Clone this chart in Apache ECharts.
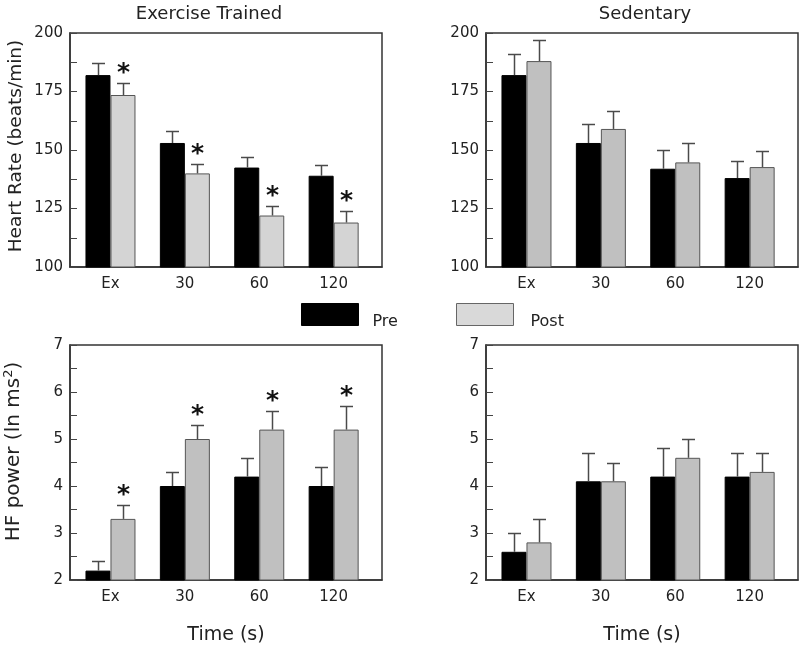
<!DOCTYPE html>
<html>
<head>
<meta charset="utf-8">
<script src="https://cdn.jsdelivr.net/npm/echarts@6/dist/echarts.min.js"></script>
<style>html,body{margin:0;padding:0;background:#fff}#c{width:800px;height:648px}</style>
</head>
<body>
<div id="c"></div>
<script>
// ---- data ----
const categories = ['Ex', '30', '60', '120'];
const panelTitles = ['Exercise Trained', 'Sedentary'];
const hrTicks = [100, 125, 150, 175, 200];
const hfTicks = [2, 3, 4, 5, 6, 7];

const trainedHRPre = [182, 153, 142.5, 139];
const trainedHRPreErr = [5, 5, 4.5, 4.5];
const trainedHRPost = [173.5, 140, 122, 119];
const trainedHRPostErr = [5, 4, 4, 5];
const trainedHRSig = [true, true, true, true];

const sedHRPre = [182, 153, 142, 138];
const sedHRPreErr = [9, 8, 8, 7.5];
const sedHRPost = [188, 159, 144.7, 142.7];
const sedHRPostErr = [9, 7.5, 8.3, 7];
const sedHRSig = [false, false, false, false];

const trainedHFPre = [2.2, 4.0, 4.2, 4.0];
const trainedHFPreErr = [0.2, 0.3, 0.4, 0.4];
const trainedHFPost = [3.3, 5.0, 5.2, 5.2];
const trainedHFPostErr = [0.3, 0.3, 0.4, 0.5];
const trainedHFSig = [true, true, true, true];

const sedHFPre = [2.6, 4.1, 4.2, 4.2];
const sedHFPreErr = [0.4, 0.6, 0.6, 0.5];
const sedHFPost = [2.8, 4.1, 4.6, 4.3];
const sedHFPostErr = [0.5, 0.4, 0.4, 0.4];
const sedHFSig = [false, false, false, false];

// ---- styling ----
const FONT = '"DejaVu Sans", "Noto Sans", sans-serif';
const BAR_W = 25;
const PRE_COLOR = '#000000';
const POST_LIGHT = '#d4d4d4';
const POST_DARK = '#c0c0c0';
const FRAME = '#333333';

const grids = [
  {left: 70, top: 33, width: 312, height: 234},
  {left: 486, top: 33, width: 312, height: 234},
  {left: 70, top: 345, width: 312, height: 235},
  {left: 486, top: 345, width: 312, height: 235}
].map(g => Object.assign(g, {show: true, borderColor: FRAME, borderWidth: 1.5, backgroundColor: 'transparent'}));

const xAxes = grids.map((g, i) => ({
  type: 'value', gridIndex: i, min: -0.544, max: 3.65,
  axisLine: {show: true, onZero: false, lineStyle: {color: FRAME, width: 1.5}},
  axisTick: {show: false},
  splitLine: {show: false},
  axisLabel: {
    customValues: [0, 1, 2, 3],
    formatter: v => categories[Math.round(v)],
    fontFamily: FONT, fontSize: 15, color: '#222', margin: 10
  },
  name: i >= 2 ? 'Time (s)' : '',
  nameLocation: 'middle', nameGap: 46,
  nameTextStyle: {fontFamily: FONT, fontSize: 19, color: '#222'}
}));

function yAxis(i, ticks, name, nameSize, namePad) {
  const interval = ticks[1] - ticks[0];
  return {
    type: 'value', gridIndex: i, min: ticks[0], max: ticks[ticks.length - 1], interval: interval,
    axisLine: {show: true, onZero: false, lineStyle: {color: FRAME, width: 1.5}},
    axisTick: {show: true, inside: true, length: 7, lineStyle: {color: '#444'}},
    minorTick: {show: true, splitNumber: 2, length: 7, lineStyle: {color: '#444'}},
    splitLine: {show: false},
    axisLabel: {fontFamily: FONT, fontSize: 15, color: '#222', margin: 7},
    name: name, nameLocation: 'middle', nameGap: 44,
    nameTextStyle: {
      fontFamily: FONT, fontSize: nameSize, color: '#222', padding: namePad,
      rich: {sup: {fontFamily: FONT, fontSize: 13, color: '#222', verticalAlign: 'top', padding: [0, 0, 11, 0]}}
    }
  };
}
const yAxes = [
  yAxis(0, hrTicks, 'Heart Rate (beats/min)', 18.5, [0, 0, 0, 8]),
  yAxis(1, hrTicks, '', 18.5, 0),
  yAxis(2, hfTicks, 'HF power (ln ms{sup|2})', 20, [0, 0, 0, 22]),
  yAxis(3, hfTicks, '', 20, 0)
];

const panels = [
  {pre: trainedHRPre, preErr: trainedHRPreErr, post: trainedHRPost, postErr: trainedHRPostErr, sig: trainedHRSig, postColor: POST_LIGHT},
  {pre: sedHRPre, preErr: sedHRPreErr, post: sedHRPost, postErr: sedHRPostErr, sig: sedHRSig, postColor: POST_DARK},
  {pre: trainedHFPre, preErr: trainedHFPreErr, post: trainedHFPost, postErr: trainedHFPostErr, sig: trainedHFSig, postColor: POST_DARK},
  {pre: sedHFPre, preErr: sedHFPreErr, post: sedHFPost, postErr: sedHFPostErr, sig: sedHFSig, postColor: POST_DARK}
];

function errSeries(idx, vals, errs, sig, dir) {
  return {
    type: 'custom', name: 'err' + idx + dir, xAxisIndex: idx, yAxisIndex: idx, z: 5,
    silent: true,
    data: vals.map((v, i) => [i, v, errs[i], sig[i] ? 1 : 0]),
    encode: {x: 0, y: 1},
    renderItem: function (params, api) {
      const x = api.value(0), v = api.value(1), e = api.value(2), s = api.value(3);
      const b = api.coord([x, v]);
      const t = api.coord([x, v + e]);
      const cx = Math.round(b[0] + dir * BAR_W / 2) + 0.5;
      const ty = Math.round(t[1]) + 0.5;
      const style = {stroke: '#4a4a4a', lineWidth: 1.5};
      const children = [
        {type: 'line', shape: {x1: cx, y1: b[1], x2: cx, y2: ty}, style: style},
        {type: 'line', shape: {x1: cx - 6.5, y1: ty, x2: cx + 6.5, y2: ty}, style: style}
      ];
      if (s) {
        children.push({type: 'text', x: cx, y: ty + 2,
          style: {text: '*', fontFamily: FONT, fontWeight: 'bold', fontSize: 25, fill: '#111', align: 'center', verticalAlign: 'bottom'}});
      }
      return {type: 'group', children: children};
    }
  };
}

const series = [];
panels.forEach((p, idx) => {
  series.push({
    type: 'bar', name: 'Pre', xAxisIndex: idx, yAxisIndex: idx, barWidth: BAR_W, barGap: '0%',
    data: p.pre.map((v, i) => [i, v]),
    itemStyle: {color: PRE_COLOR, borderColor: '#000', borderWidth: 1}
  });
  series.push({
    type: 'bar', name: 'Post', xAxisIndex: idx, yAxisIndex: idx, barWidth: BAR_W, barGap: '0%',
    data: p.post.map((v, i) => [i, v]),
    itemStyle: {color: p.postColor, borderColor: '#555', borderWidth: 1}
  });
  series.push(errSeries(idx, p.pre, p.preErr, p.pre.map(() => false), -1));
  series.push(errSeries(idx, p.post, p.postErr, p.sig, 1));
});

function legendText(padLeft) {
  return {
    fontFamily: FONT, fontSize: 16, color: '#222',
    rich: {t: {fontFamily: FONT, fontSize: 16, color: '#222', lineHeight: 31, verticalAlign: 'bottom', padding: [0, 0, 0, padLeft]}}
  };
}

const option = {
  animation: false,
  backgroundColor: '#fff',
  title: [
    {text: panelTitles[0], left: 204, top: 0, textAlign: 'center', textStyle: {fontFamily: FONT, fontSize: 18, fontWeight: 'normal', color: '#222'}},
    {text: panelTitles[1], left: 640, top: 0, textAlign: 'center', textStyle: {fontFamily: FONT, fontSize: 18, fontWeight: 'normal', color: '#222'}}
  ],
  legend: [
    {data: [{name: 'Pre', itemStyle: {color: '#000', borderColor: '#000', borderWidth: 1}}],
     left: 296, top: 298, icon: 'rect', itemWidth: 57, itemHeight: 22, selectedMode: false,
     formatter: name => '{t|' + name + '}', textStyle: legendText(9)},
    {data: [{name: 'Post', itemStyle: {color: '#d9d9d9', borderColor: '#666', borderWidth: 1}}],
     left: 451, top: 298, icon: 'rect', itemWidth: 57, itemHeight: 22, selectedMode: false,
     formatter: name => '{t|' + name + '}', textStyle: legendText(12)}
  ],
  grid: grids,
  xAxis: xAxes,
  yAxis: yAxes,
  series: series
};

const chart = echarts.init(document.getElementById('c'), null, {renderer: 'canvas'});
chart.setOption(option);
</script>
</body>
</html>
